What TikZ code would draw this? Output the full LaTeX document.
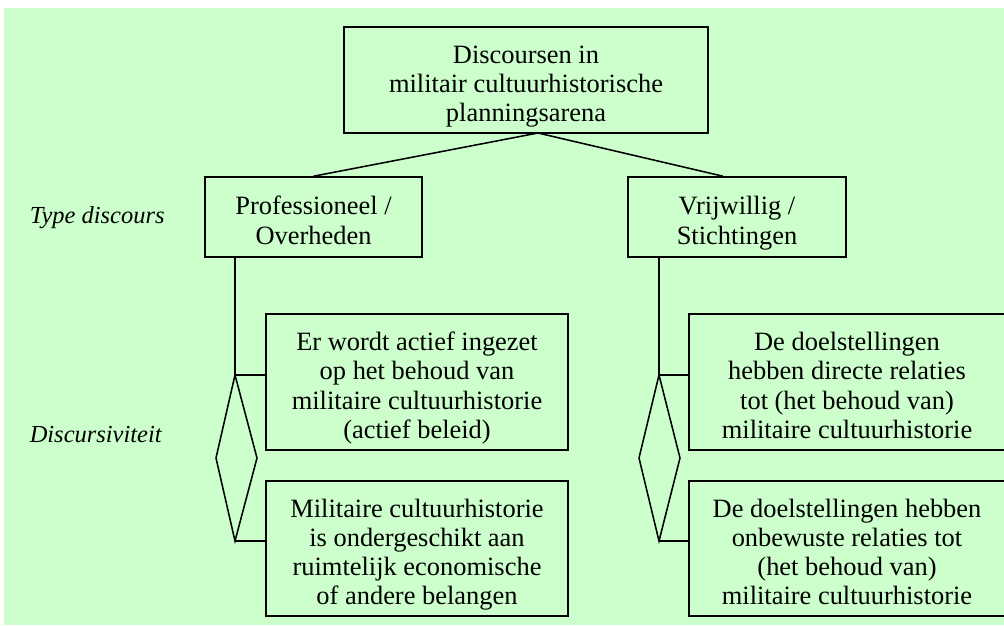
\documentclass[tikz,border=0pt]{standalone}
\usepackage{fontspec}
\setmainfont{Liberation Serif}
\usepackage{tikz}
\definecolor{bggreen}{RGB}{204,255,204}
\newcommand{\topst}{\rule{0pt}{22.8pt}}
\newcommand{\botst}{\rule[-5pt]{0pt}{5pt}}
\tikzset{
	box/.style={draw, line width=1.1pt, align=center, inner sep=0pt, font=\fontsize{18.8}{20.8}\selectfont,
		execute at end node=\botst},
	lbl/.style={anchor=west, inner sep=0pt, font=\fontsize{17.4}{20}\selectfont\itshape}
}

\begin{document}
\begin{tikzpicture}[x=0.025cm, y=-0.025cm, line width=1.1pt]
		\useasboundingbox (0,0) rectangle (1004,625);
		\fill[bggreen] (4,8) rectangle (1004,625);
		\node[box, minimum width=9.1cm, minimum height=2.65cm] (top) at (526,80) {\topst Discoursen in\\militair cultuurhistorische\\planningsarena};
		\node[box, minimum width=5.425cm, minimum height=2cm] (prof) at (313.5,217) {\topst Professioneel /\\Overheden};
		\node[box, minimum width=5.45cm, minimum height=2cm] (vrij) at (737,217) {\topst Vrijwillig /\\Stichtingen};
		\node[box, minimum width=7.55cm, minimum height=3.4cm] (p1) at (417,382) {\topst Er wordt actief ingezet\\op het behoud van\\militaire cultuurhistorie\\(actief beleid)};
		\node[box, minimum width=7.55cm, minimum height=3.375cm] (p2) at (417,548.5) {\topst Militaire cultuurhistorie\\is ondergeschikt aan\\ruimtelijk economische\\of andere belangen};
		\node[box, minimum width=7.9cm, minimum height=3.4cm] (v1) at (847,382) {\topst De doelstellingen\\hebben directe relaties\\tot (het behoud van)\\militaire cultuurhistorie};
		\node[box, minimum width=7.9cm, minimum height=3.375cm] (v2) at (847,548.5) {\topst De doelstellingen hebben\\onbewuste relaties tot\\(het behoud van)\\militaire cultuurhistorie};
		\node[lbl] (type) at (29,218) {Type discours};
		\node[lbl] (disc) at (29,435) {Discursiviteit};
		\coordinate (apex) at (538,133);
		\draw (prof.north) -- (apex) -- ([xshift=-0.35cm]vrij.north);
		\coordinate (pt) at (235,375);
		\coordinate (pb) at (235,541);
		\coordinate (pl) at (216,458);
		\coordinate (pr) at (257,458);
		\draw (prof.south -| pt) -- (pt) -- (pt -| p1.west);
		\draw (pb) -- (pb -| p2.west);
		\draw (pt) -- (pr) -- (pb) -- (pl) -- cycle;
		\coordinate (vt) at (659,375);
		\coordinate (vb) at (659,541);
		\coordinate (vl) at (639,458);
		\coordinate (vr) at (680,458);
		\draw (vrij.south -| vt) -- (vt) -- (vt -| v1.west);
		\draw (vb) -- (vb -| v2.west);
		\draw (vt) -- (vr) -- (vb) -- (vl) -- cycle;
	\end{tikzpicture}
\end{document}
